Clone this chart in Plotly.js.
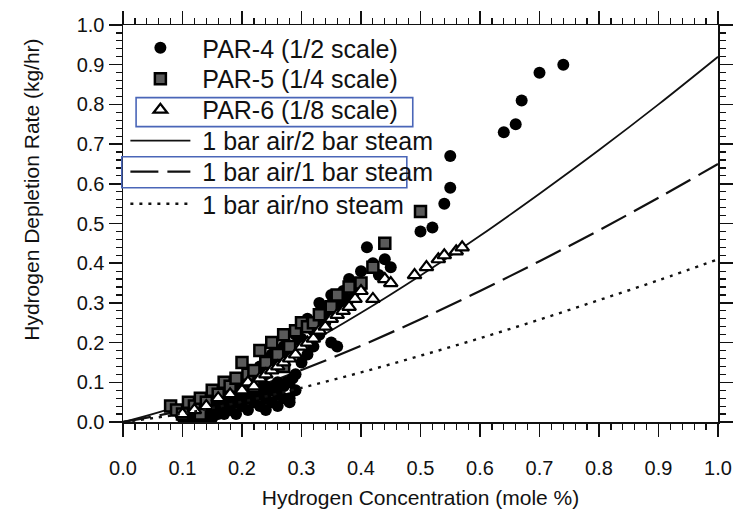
<!DOCTYPE html>
<html>
<head>
<meta charset="utf-8">
<script src="https://cdn.plot.ly/plotly-3.0.1.min.js"></script>
<style>html,body{margin:0;padding:0;background:#fff;}#chart{width:738px;height:520px;}</style>
</head>
<body>
<div id="chart"></div>
<script>
// ---- data ----
const par4X = [0.10,0.11,0.12,0.13,0.12,0.14,0.15,0.16,0.17,0.18,0.19,0.20,0.21,0.22,0.23,0.24,0.25,0.26,0.27,0.28,0.27,0.25,0.22,0.20,0.18,0.29,0.30,0.31,0.35,0.36,0.32,0.33,0.34,0.35,0.37,0.38,0.39,0.38,0.40,0.41,0.42,0.44,0.45,0.43,0.40,0.50,0.52,0.54,0.55,0.55,0.64,0.66,0.67,0.70,0.74,0.30,0.28,0.26,0.24,0.23,0.21,0.19,0.16,0.14,0.13,0.11,
  0.20,0.22,0.24,0.26,0.28,0.30,0.32,0.34,0.36,0.31,0.33,0.29,0.27,0.25,0.23,0.21,0.19,0.17,0.15,0.13,0.11,0.12,0.14,0.15,0.17,0.19,0.21,0.23,0.24,0.26,0.28,0.29,0.28,0.26,0.24,0.35,0.37,0.39,0.34,
  0.115,0.125,0.135,0.145,0.155,0.165,0.175,0.185,0.195,0.205,0.215,0.225,0.235,0.245,0.255,0.265,0.275,0.285];
const par4Y = [0.01,0.00,0.00,0.01,0.02,0.02,0.03,0.02,0.04,0.03,0.05,0.04,0.06,0.05,0.07,0.06,0.08,0.07,0.09,0.10,0.06,0.05,0.08,0.07,0.06,0.12,0.15,0.17,0.20,0.19,0.19,0.22,0.25,0.32,0.30,0.31,0.33,0.36,0.38,0.44,0.40,0.41,0.39,0.37,0.34,0.48,0.49,0.55,0.59,0.67,0.73,0.75,0.81,0.88,0.90,0.20,0.17,0.15,0.12,0.10,0.10,0.08,0.05,0.04,0.00,0.01,
  0.10,0.12,0.14,0.16,0.18,0.21,0.23,0.27,0.29,0.26,0.30,0.22,0.19,0.17,0.14,0.12,0.10,0.08,0.06,0.04,0.03,0.01,0.00,0.01,0.02,0.02,0.03,0.04,0.03,0.04,0.06,0.08,0.05,0.10,0.09,0.28,0.33,0.35,0.29,
  0.01,0.02,0.02,0.03,0.03,0.04,0.05,0.05,0.06,0.06,0.07,0.07,0.08,0.08,0.09,0.09,0.10,0.11];
const par5X = [0.08,0.09,0.10,0.11,0.12,0.13,0.14,0.15,0.16,0.17,0.18,0.19,0.20,0.21,0.22,0.23,0.24,0.25,0.26,0.27,0.28,0.29,0.30,0.31,0.32,0.33,0.35,0.36,0.38,0.40,0.42,0.44,0.50,0.13,0.22,0.27];
const par5Y = [0.04,0.03,0.02,0.05,0.04,0.06,0.05,0.08,0.07,0.10,0.09,0.11,0.15,0.12,0.13,0.18,0.15,0.20,0.17,0.22,0.19,0.23,0.25,0.24,0.25,0.27,0.29,0.32,0.34,0.35,0.39,0.45,0.53,0.02,0.09,0.14];
const par6X = [0.10,0.12,0.14,0.16,0.18,0.20,0.21,0.22,0.23,0.24,0.25,0.26,0.27,0.28,0.29,0.30,0.31,0.32,0.33,0.34,0.35,0.36,0.37,0.38,0.39,0.40,0.42,0.44,0.45,0.49,0.51,0.53,0.54,0.56,0.57];
const par6Y = [0.02,0.03,0.04,0.06,0.07,0.08,0.10,0.09,0.11,0.12,0.13,0.14,0.15,0.16,0.17,0.19,0.20,0.21,0.23,0.24,0.26,0.27,0.28,0.29,0.31,0.33,0.31,0.36,0.35,0.37,0.39,0.41,0.42,0.43,0.44];
const curveX   = [0.0,0.1,0.2,0.3,0.4,0.5,0.6,0.7,0.8,0.9,1.0];
const steam2Y  = [0.0,0.044,0.110,0.188,0.275,0.369,0.469,0.575,0.685,0.800,0.920];
const steam1Y  = [0.0,0.030,0.076,0.131,0.192,0.259,0.330,0.405,0.483,0.565,0.650];
const noSteamY = [0.0,0.021,0.051,0.086,0.125,0.167,0.211,0.258,0.307,0.357,0.410];
const seriesNames = ['PAR-4 (1/2 scale)','PAR-5 (1/4 scale)','PAR-6 (1/8 scale)','1 bar air/2 bar steam','1 bar air/1 bar steam','1 bar air/no steam'];

const FONT = 'Liberation Sans, Arial, Helvetica, sans-serif';
const NB = '\u00a0';
const traces = [
  {x: curveX, y: steam2Y, name: NB+seriesNames[3], mode:'lines', line:{color:'#111', width:1.8, shape:'spline'}, legend:'legend4'},
  {x: curveX, y: steam1Y, name: NB+seriesNames[4], mode:'lines', line:{color:'#111', width:2.2, dash:'28px,9px', shape:'spline'}, legend:'legend5'},
  {x: par4X, y: par4Y, name: NB+seriesNames[0], mode:'markers', marker:{symbol:'circle', size:12, color:'#000'}, legend:'legend'},
  {x: par5X, y: par5Y, name: NB+seriesNames[1], mode:'markers', marker:{symbol:'square', size:11, color:'#5a5a5a', line:{color:'#000', width:2.5}}, legend:'legend2'},
  {x: par6X, y: par6Y, name: NB+seriesNames[2], mode:'markers', marker:{symbol:'triangle-up', size:12, color:'#fff', line:{color:'#000', width:2.2}}, legend:'legend3'},
  {x: curveX, y: noSteamY, name: NB+seriesNames[5], xaxis:'x2', yaxis:'y', mode:'lines', line:{color:'#111', width:2.4, dash:'3px,6px', shape:'spline'}, legend:'legend6'}
];

function legendAt(yPaper){
  return {x:0.004, y:yPaper, xanchor:'left', yanchor:'middle', bgcolor:'rgba(0,0,0,0)', borderwidth:0,
          font:{family:FONT, size:25, color:'#111'}, itemwidth:60};
}

const minorTicks = {tickmode:'linear', tick0:0, dtick:0.02, ticks:'outside', ticklen:6, tickwidth:1.2, tickcolor:'#111', showgrid:false};

const layout = {
  width:738, height:520,
  margin:{l:123, r:20, t:25, b:98},
  paper_bgcolor:'#fff', plot_bgcolor:'#fff',
  font:{family:FONT, color:'#111'},
  showlegend:true,
  legend: legendAt(0.942),
  legend2: legendAt(0.864),
  legend3: legendAt(0.786),
  legend4: legendAt(0.708),
  legend5: legendAt(0.630),
  legend6: legendAt(0.549),
  // frame + major/minor ticks on x (labels carried by xaxis2 below)
  xaxis: {
    anchor:'y', range:[0,1], autorange:false, showgrid:false, zeroline:false,
    showline:true, linecolor:'#111', linewidth:1.5, mirror:'ticks',
    ticks:'outside', ticklen:13, tickwidth:1.5, tickcolor:'#111',
    tickmode:'linear', tick0:0, dtick:0.1, showticklabels:false,
    minor: Object.assign({}, minorTicks)
  },
  // label-only x axis overlaying the main one; transparent long ticks set the label offset
  xaxis2: {
    overlaying:'x', anchor:'y', side:'bottom', range:[0,1], autorange:false,
    showgrid:false, zeroline:false, showline:false,
    ticks:'outside', ticklen:28, tickwidth:1, tickcolor:'rgba(0,0,0,0)',
    tickmode:'linear', tick0:0, dtick:0.1, tickformat:'.1f',
    tickfont:{family:FONT, size:20, color:'#111'},
    title:{text:'Hydrogen Concentration (mole %)', font:{family:FONT, size:21, color:'#111'}, standoff:12}
  },
  yaxis: {
    anchor:'x', range:[0,1], autorange:false, showgrid:false, zeroline:false,
    showline:true, linecolor:'#111', linewidth:1.5, mirror:'ticks',
    ticks:'outside', ticklen:13, tickwidth:1.5, tickcolor:'#111',
    tickmode:'linear', tick0:0, dtick:0.1, tickformat:'.1f',
    tickfont:{family:FONT, size:20, color:'#111'},
    minor: Object.assign({}, minorTicks)
  },
  annotations:[
    {text:'Hydrogen Depletion Rate (kg/hr)', textangle:-90, xref:'paper', yref:'paper', x:-0.153, y:0.585,
     xanchor:'center', yanchor:'middle', showarrow:false, font:{family:FONT, size:21, color:'#111'}}
  ],
  shapes:[
    {type:'rect', xref:'paper', yref:'paper', x0:0.022, x1:0.487, y0:0.744, y1:0.817, line:{color:'#4a66b8', width:1.6}},
    {type:'rect', xref:'paper', yref:'paper', x0:-0.002, x1:0.477, y0:0.590, y1:0.668, line:{color:'#4a66b8', width:1.6}}
  ]
};

Plotly.newPlot('chart', traces, layout, {displayModeBar:false, staticPlot:true});
</script>
</body>
</html>
